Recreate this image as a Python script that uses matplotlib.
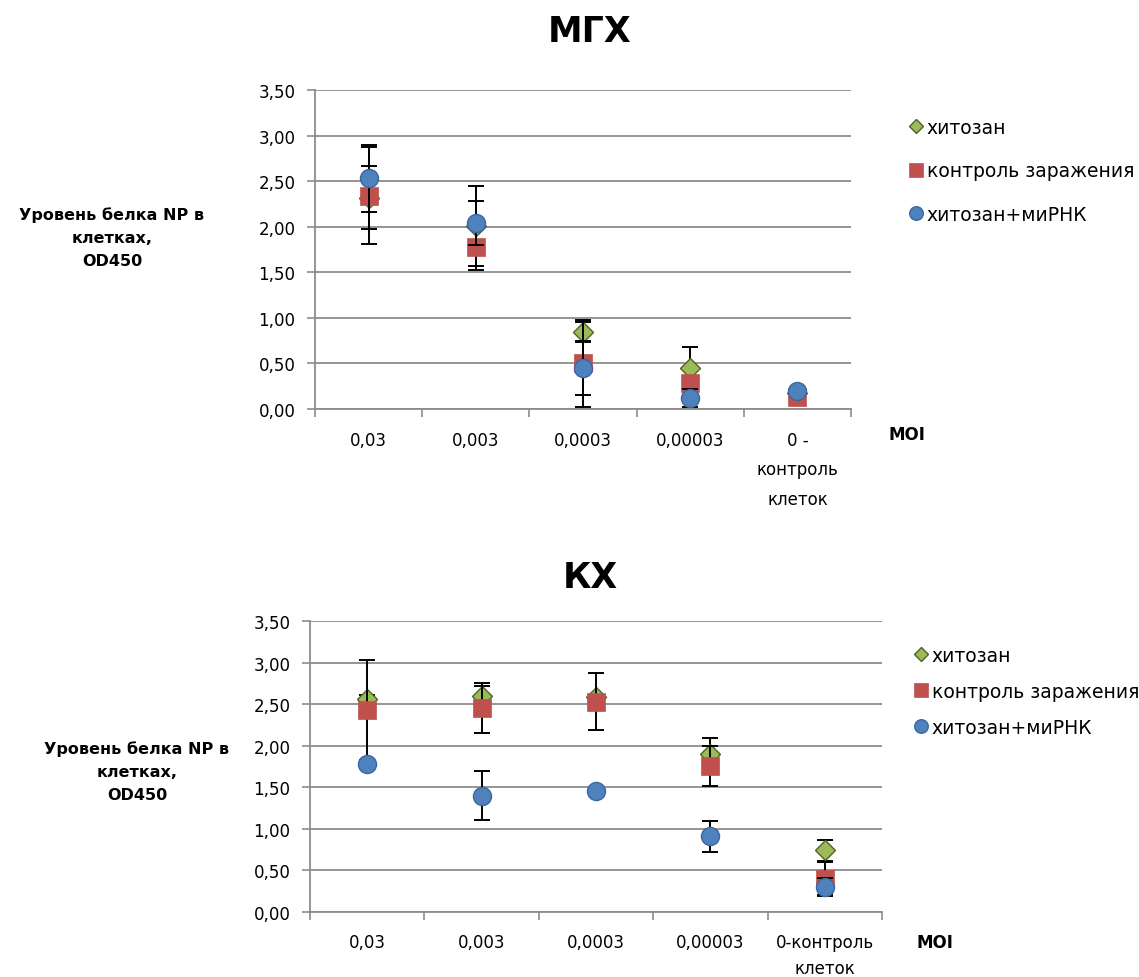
import numpy as np
import matplotlib.pyplot as plt
from matplotlib.ticker import FuncFormatter, FixedLocator

plt.rcParams['font.family'] = ['DejaVu Sans']

# categories (MOI)
cats_top = ['0,03', '0,003', '0,0003', '0,00003', '0 -\nконтроль\nклеток']
cats_bot = ['0,03', '0,003', '0,0003', '0,00003', '0-контроль\nклеток']

series_names = ['хитозан', 'контроль заражения', 'хитозан+миРНК']

# МГХ
mgh_chit = [2.32, 2.01, 0.85, 0.45, 0.18]
mgh_chit_err = [0.35, 0.44, 0.11, 0.23, 0.02]
mgh_ctrl = [2.34, 1.78, 0.50, 0.28, 0.13]
mgh_ctrl_err = [0.53, 0.25, 0.48, 0.05, 0.02]
mgh_mirna = [2.53, 2.04, 0.45, 0.12, 0.20]
mgh_mirna_err = [0.37, 0.24, 0.30, 0.10, 0.02]

# КХ
kh_chit = [2.56, 2.60, 2.58, 1.90, 0.74]
kh_chit_err = [0.05, 0.12, 0.03, 0.19, 0.13]
kh_ctrl = [2.43, 2.45, 2.53, 1.76, 0.40]
kh_ctrl_err = [0.60, 0.30, 0.34, 0.24, 0.20]
kh_mirna = [1.78, 1.40, 1.46, 0.91, 0.30]
kh_mirna_err = [0.03, 0.29, 0.03, 0.185, 0.11]

W, H = 1139, 978
fig = plt.figure(figsize=(W / 100, H / 100), dpi=100)

GRID = '#8c8c8c'
styles = [
    dict(marker='D', ms=10, mfc='#9BBB59', mec='#4F6228', mew=1.0),
    dict(marker='s', ms=12.5, mfc='#C0504D', mec='#C0504D', mew=0.5),
    dict(marker='o', ms=13, mfc='#4F81BD', mec='#3A679E', mew=1.0),
]


def px_axes(left, top, right, bottom):
    return fig.add_axes([left / W, 1 - bottom / H, (right - left) / W, (bottom - top) / H])


def draw_panel(ax, cats, data, title, title_y, ylab_xy, moi_xy, leg_xy, leg_space,
               tick_pad, tick_ls):
    x = np.arange(len(cats))
    handles = []
    for i, (vals, errs) in enumerate(data):
        ax.errorbar(x, vals, yerr=errs, fmt='none', ecolor='black',
                    elinewidth=1.4, capsize=6, capthick=1.4, zorder=3 + i * 2)
        m, = ax.plot(x, vals, linestyle='none', zorder=4 + i * 2,
                     label=series_names[i], **styles[i])
        handles.append(m)

    ax.set_xlim(-0.5, len(cats) - 0.5)
    ax.set_ylim(0, 3.5)
    ax.set_yticks(np.arange(0, 3.51, 0.5))
    ax.yaxis.set_major_formatter(FuncFormatter(lambda v, p: f'{v:.2f}'.replace('.', ',')))
    ax.set_xticks(x)
    ax.set_xticklabels(cats, linespacing=tick_ls)
    ax.xaxis.set_minor_locator(FixedLocator(np.arange(-0.5, len(cats), 1.0)))
    ax.tick_params(axis='x', which='major', length=0, pad=tick_pad, labelsize=12)
    ax.tick_params(axis='x', which='minor', length=6, width=1.2, color=GRID, direction='out')
    ax.tick_params(axis='y', length=6, width=1.2, color=GRID, pad=8, labelsize=12)

    ax.grid(axis='y', color=GRID, linewidth=1.3)
    ax.set_axisbelow(True)
    for s in ['top', 'right']:
        ax.spines[s].set_visible(False)
    for s in ['left', 'bottom']:
        ax.spines[s].set_color(GRID)
        ax.spines[s].set_linewidth(1.3)

    fig.text(590 / W, 1 - title_y / H, title, ha='center', va='center',
             fontsize=25, fontweight='bold')
    fig.text(ylab_xy[0] / W, 1 - ylab_xy[1] / H, 'Уровень белка NP в\nклетках,\nOD450',
             ha='center', va='center', fontsize=11.5, fontweight='bold', linespacing=1.65)
    fig.text(moi_xy[0] / W, 1 - moi_xy[1] / H, 'MOI', ha='center', va='center',
             fontsize=12, fontweight='bold')
    fig.legend(handles=handles, loc='upper left',
               bbox_to_anchor=(leg_xy[0] / W, 1 - leg_xy[1] / H),
               frameon=False, fontsize=13.5, handlelength=0.6, handletextpad=0.3,
               labelspacing=leg_space, borderpad=0, borderaxespad=0,
               markerscale=0.75)


ax1 = px_axes(315, 91, 851, 410)
draw_panel(ax1, cats_top,
           [(mgh_chit, mgh_chit_err), (mgh_ctrl, mgh_ctrl_err), (mgh_mirna, mgh_mirna_err)],
           'МГХ', 32, (112, 238), (907, 435), (910, 119), 1.3, 16, 1.8)

ax2 = px_axes(310, 622, 882, 913)
draw_panel(ax2, cats_bot,
           [(kh_chit, kh_chit_err), (kh_ctrl, kh_ctrl_err), (kh_mirna, kh_mirna_err)],
           'КХ', 578, (137, 772), (935, 943), (915, 647), 0.9, 15, 1.6)

fig.savefig('out.png', dpi=100)
